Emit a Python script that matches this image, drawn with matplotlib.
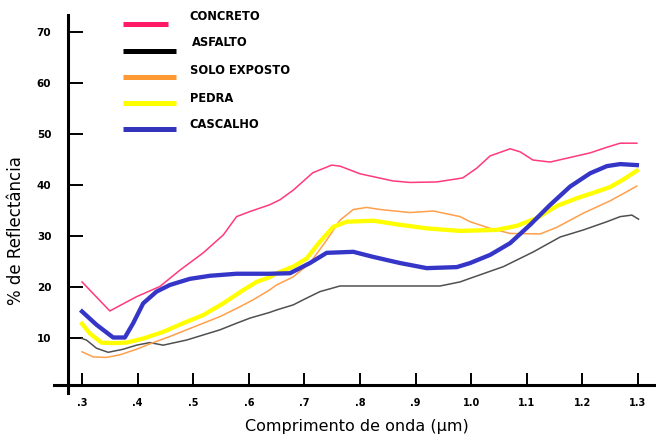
import matplotlib
matplotlib.use("Agg")
import matplotlib.pyplot as plt
from matplotlib.lines import Line2D

# reflectance curves (wavelength in um, reflectance in %)
concreto_x = [0.300, 0.350, 0.398, 0.440, 0.476, 0.518, 0.554, 0.578, 0.602, 0.637, 0.656, 0.680,
              0.715, 0.749, 0.764, 0.800, 0.859, 0.890, 0.938, 0.974, 0.985, 1.010, 1.034, 1.070,
              1.088, 1.111, 1.142, 1.178, 1.214, 1.244, 1.268, 1.298]
concreto_y = [21.0, 15.3, 18.1, 20.1, 23.3, 26.7, 30.2, 33.8, 34.8, 36.1, 37.1, 39.0,
              42.4, 43.9, 43.7, 42.2, 40.8, 40.5, 40.6, 41.2, 41.4, 43.3, 45.7, 47.1,
              46.5, 44.9, 44.5, 45.4, 46.3, 47.4, 48.2, 48.2]

asfalto_x = [0.300, 0.308, 0.326, 0.347, 0.374, 0.398, 0.422, 0.446, 0.488, 0.518, 0.548, 0.578,
             0.602, 0.637, 0.650, 0.680, 0.698, 0.728, 0.764, 0.944, 0.980, 0.998, 1.058, 1.112,
             1.160, 1.202, 1.244, 1.268, 1.289, 1.301]
asfalto_y = [9.9, 9.6, 8.0, 7.2, 7.8, 8.6, 9.1, 8.6, 9.6, 10.6, 11.6, 12.9,
             13.9, 15.0, 15.5, 16.5, 17.5, 19.1, 20.2, 20.2, 21.0, 21.7, 24.0, 26.9,
             29.8, 31.2, 32.8, 33.8, 34.1, 33.3]

solo_x = [0.300, 0.320, 0.344, 0.368, 0.398, 0.428, 0.458, 0.488, 0.518, 0.548, 0.578, 0.608,
          0.637, 0.650, 0.680, 0.710, 0.740, 0.764, 0.788, 0.812, 0.836, 0.890, 0.932, 0.980,
          0.998, 1.034, 1.070, 1.124, 1.154, 1.202, 1.250, 1.280, 1.298]
solo_y = [7.3, 6.3, 6.2, 6.7, 7.8, 9.1, 10.3, 11.6, 12.9, 14.2, 15.8, 17.5,
          19.4, 20.4, 22.0, 24.7, 29.2, 33.1, 35.2, 35.6, 35.2, 34.6, 34.9, 33.8,
          32.8, 31.5, 30.5, 30.4, 31.7, 34.5, 36.9, 38.7, 39.8]

pedra_x = [0.300, 0.314, 0.335, 0.356, 0.380, 0.410, 0.446, 0.482, 0.518, 0.554, 0.590, 0.614,
           0.637, 0.650, 0.680, 0.704, 0.728, 0.752, 0.776, 0.824, 0.872, 0.920, 0.979, 1.046,
           1.082, 1.118, 1.154, 1.190, 1.226, 1.250, 1.274, 1.298]
pedra_y = [12.8, 10.9, 9.1, 9.0, 9.1, 9.9, 11.2, 12.9, 14.5, 16.8, 19.4, 21.0,
           21.9, 22.7, 24.0, 25.6, 28.9, 31.8, 32.8, 33.0, 32.2, 31.5, 31.0, 31.2,
           32.0, 33.5, 35.9, 37.4, 38.7, 39.6, 41.1, 42.8]

cascalho_x = [0.300, 0.326, 0.356, 0.377, 0.392, 0.410, 0.434, 0.458, 0.494, 0.530, 0.578, 0.637,
              0.674, 0.710, 0.740, 0.788, 0.824, 0.872, 0.920, 0.974, 0.998, 1.034, 1.070, 1.106,
              1.142, 1.178, 1.214, 1.244, 1.268, 1.298]
cascalho_y = [15.2, 12.6, 10.1, 10.1, 12.9, 16.8, 19.1, 20.4, 21.6, 22.2, 22.6, 22.6,
              22.7, 24.7, 26.7, 26.9, 25.9, 24.7, 23.7, 23.9, 24.7, 26.3, 28.6, 32.2,
              36.1, 39.7, 42.3, 43.7, 44.1, 43.9]

x_ticks = [0.3, 0.4, 0.5, 0.6, 0.7, 0.8, 0.9, 1.0, 1.1, 1.2, 1.3]
x_labels = [".3", ".4", ".5", ".6", ".7", ".8", ".9", "1.0", "1.1", "1.2", "1.3"]
y_ticks = [10, 20, 30, 40, 50, 60, 70]
y_labels = ["10", "20", "30", "40", "50", "60", "70"]

names = ["CONCRETO", "ASFALTO", "SOLO EXPOSTO", "PEDRA", "CASCALHO"]
line_colors = ["#ff3a7a", "#505050", "#ff9f4a", "#ffff00", "#3535c8"]
legend_colors = ["#ff1a66", "#000000", "#ff9933", "#ffff00", "#3333bb"]
widths = [1.1, 1.1, 1.1, 3.1, 3.1]

plt.rcParams["font.family"] = ["DejaVu Sans"]

fig = plt.figure(figsize=(6.56, 4.36), dpi=100)
ax = fig.add_axes([54 / 656, 43 / 436, 602 / 656, 378 / 436])

series = [(concreto_x, concreto_y), (asfalto_x, asfalto_y), (solo_x, solo_y),
          (pedra_x, pedra_y), (cascalho_x, cascalho_y)]
# thin lines first, thick ones on top
for i in range(5):
    xs, ys = series[i]
    ax.plot(xs, ys, color=line_colors[i], lw=widths[i], solid_joinstyle="round")

ax.set_xlim(0.2496, 1.3324)
ax.set_ylim(-0.78, 73.33)
ax.spines["top"].set_visible(False)
ax.spines["right"].set_visible(False)
ax.spines["left"].set_position(("data", 0.2748))
ax.spines["bottom"].set_position(("data", 0.78))
for s in ["left", "bottom"]:
    ax.spines[s].set_linewidth(2.2)

ax.set_xticks(x_ticks)
ax.set_xticklabels(x_labels, fontsize=7, fontweight="bold")
ax.set_yticks(y_ticks)
ax.set_yticklabels(y_labels, fontsize=7.5, fontweight="bold")
ax.tick_params(axis="x", direction="in", length=9, width=1.4, pad=9)
ax.tick_params(axis="y", direction="in", length=10.5, width=1.4, pad=12)

ax.set_xlabel("Comprimento de onda (µm)", fontsize=11.5)
ax.xaxis.set_label_coords(0.503, -0.070)
ax.set_ylabel("% de Reflectância", fontsize=12)
ax.yaxis.set_label_coords(-0.048, 0.43)

# legend drawn by hand: short bars with the name above-right
bar_y = [24, 51, 77, 103, 129]
bar_end = [168, 176, 176, 176, 176]
text_x = [189, 192, 190, 190, 189]
text_y = [16, 43, 71, 98, 124]
for i in range(5):
    fig.add_artist(Line2D([123 / 656, bar_end[i] / 656], [1 - bar_y[i] / 436] * 2,
                          color=legend_colors[i], lw=3.6, solid_capstyle="butt"))
    fig.text(text_x[i] / 656, 1 - text_y[i] / 436, names[i], fontsize=8.3,
             fontweight="bold", va="center", ha="left")

fig.savefig("out.png", dpi=100)
